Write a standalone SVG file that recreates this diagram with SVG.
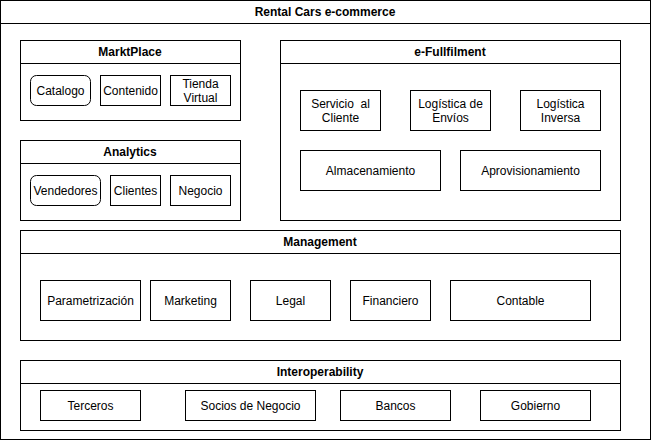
<svg xmlns="http://www.w3.org/2000/svg" width="651" height="441" viewBox="0 0 651 441">
<style>
rect{fill:#fff;stroke:#000;stroke-width:1}
line{stroke:#000;stroke-width:1}
text{font-family:"Liberation Sans",Arial,sans-serif;font-size:12px;fill:#000;text-anchor:middle;dominant-baseline:central}
.t{font-weight:bold}
</style>
<rect x="0.5" y="0.5" width="650" height="439" fill="#fff"/>
<g id="root">
<line x1="0.5" y1="23.5" x2="650.5" y2="23.5"/>
<text class="t" x="325" y="12">Rental Cars e-commerce</text>
</g>
<g id="marktplace">
<rect x="20.5" y="40.5" width="220" height="80"/>
<line x1="20.5" y1="63.5" x2="240.5" y2="63.5"/>
<text class="t" x="130" y="52">MarktPlace</text>
</g>
<g id="catalogo"><rect x="30.5" y="75.5" width="60" height="30" rx="6"/><text x="60.5" y="90.5">Catalogo</text></g>
<g id="contenido"><rect x="100.5" y="75.5" width="60" height="30"/><text x="130.5" y="90.5">Contenido</text></g>
<g id="tienda"><rect x="170.5" y="75.5" width="60" height="30"/><text x="200.5" y="83.5">Tienda</text><text x="200.5" y="97.5">Virtual</text></g>
<g id="analytics">
<rect x="20.5" y="140.5" width="220" height="80"/>
<line x1="20.5" y1="163.5" x2="240.5" y2="163.5"/>
<text class="t" x="130" y="152">Analytics</text>
</g>
<g id="vendedores"><rect x="30.5" y="175.5" width="70" height="30" rx="6"/><text x="65.5" y="190.5">Vendedores</text></g>
<g id="clientes"><rect x="110.5" y="175.5" width="50" height="30"/><text x="135.5" y="190.5">Clientes</text></g>
<g id="negocio"><rect x="170.5" y="175.5" width="60" height="30"/><text x="200.5" y="190.5">Negocio</text></g>
<g id="efull">
<rect x="280.5" y="40.5" width="340" height="180"/>
<line x1="280.5" y1="63.5" x2="620.5" y2="63.5"/>
<text class="t" x="450" y="52">e-Fullfilment</text>
</g>
<g id="servicio"><rect x="300.5" y="90.5" width="80" height="40"/><text x="340.5" y="103.5" xml:space="preserve">Servicio  al</text><text x="340.5" y="117.5">Cliente</text></g>
<g id="logenvios"><rect x="410.5" y="90.5" width="80" height="40"/><text x="450.5" y="103.5">Logística de</text><text x="450.5" y="117.5">Envíos</text></g>
<g id="loginversa"><rect x="520.5" y="90.5" width="80" height="40"/><text x="560.5" y="103.5">Logística</text><text x="560.5" y="117.5">Inversa</text></g>
<g id="almacen"><rect x="300.5" y="150.5" width="140" height="40"/><text x="370.5" y="170.5">Almacenamiento</text></g>
<g id="aprov"><rect x="460.5" y="150.5" width="140" height="40"/><text x="530.5" y="170.5">Aprovisionamiento</text></g>
<g id="management">
<rect x="20.5" y="230.5" width="600" height="110"/>
<line x1="20.5" y1="253.5" x2="620.5" y2="253.5"/>
<text class="t" x="320" y="242">Management</text>
</g>
<g id="param"><rect x="40.5" y="280.5" width="100" height="40"/><text x="90.5" y="300.5">Parametrización</text></g>
<g id="marketing"><rect x="150.5" y="280.5" width="80" height="40"/><text x="190.5" y="300.5">Marketing</text></g>
<g id="legal"><rect x="250.5" y="280.5" width="80" height="40"/><text x="290.5" y="300.5">Legal</text></g>
<g id="financiero"><rect x="350.5" y="280.5" width="80" height="40"/><text x="390.5" y="300.5">Financiero</text></g>
<g id="contable"><rect x="450.5" y="280.5" width="140" height="40"/><text x="520.5" y="300.5">Contable</text></g>
<g id="interop">
<rect x="20.5" y="360.5" width="600" height="70"/>
<line x1="20.5" y1="383.5" x2="620.5" y2="383.5"/>
<text class="t" x="320" y="372">Interoperability</text>
</g>
<g id="terceros"><rect x="40.5" y="390.5" width="100" height="30"/><text x="90.5" y="405.5">Terceros</text></g>
<g id="socios"><rect x="185.5" y="390.5" width="130" height="30"/><text x="250.5" y="405.5">Socios de Negocio</text></g>
<g id="bancos"><rect x="340.5" y="390.5" width="110" height="30"/><text x="395.5" y="405.5">Bancos</text></g>
<g id="gobierno"><rect x="480.5" y="390.5" width="110" height="30"/><text x="535.5" y="405.5">Gobierno</text></g>
<g id="connectors"></g>
</svg>
